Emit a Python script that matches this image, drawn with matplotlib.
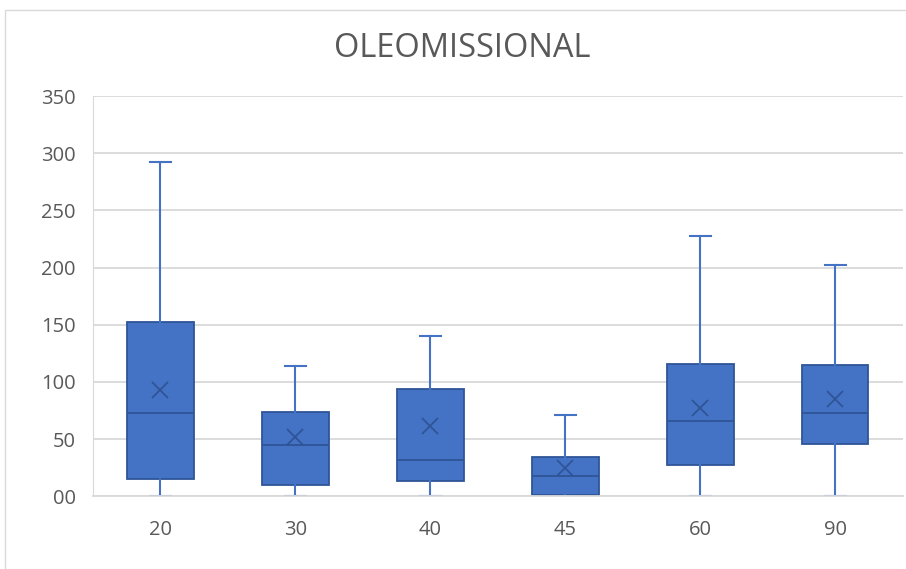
import matplotlib.pyplot as plt
from matplotlib.patches import Rectangle

# valores (Excel box & whisker)
grupos = ["20", "30", "40", "45", "60", "90"]
minimo = [0, 0, 0, 0, 0, 0]
q1 = [15, 9.6, 13, 1, 27, 45.5]
mediana = [72.5, 44.6, 31.5, 18, 65.5, 73]
q3 = [152, 73.5, 94, 34, 116, 115]
maximo = [292, 114, 140, 71, 228, 202]
media = [93, 51.5, 61, 25, 77, 85]

azul = "#4472C4"
borde = "#2F5597"
gris = "#595959"

plt.rcParams['font.family'] = ['Open Sans', 'DejaVu Sans']

fig = plt.figure(figsize=(9.06, 5.69), dpi=100)
fig.patches.append(Rectangle((0.005, -0.01), 1.2, 0.993, transform=fig.transFigure,
                             fill=False, edgecolor="#D9D9D9", linewidth=1))
ax = fig.add_axes([0.1026, 0.128, 0.894, 0.703])

stats = []
for i in range(len(grupos)):
    stats.append({"whislo": minimo[i], "q1": q1[i], "med": mediana[i],
                  "q3": q3[i], "whishi": maximo[i], "mean": media[i],
                  "label": grupos[i]})

ax.bxp(stats, positions=range(len(grupos)), widths=0.49, patch_artist=True,
       showmeans=True, showfliers=False,
       boxprops=dict(facecolor=azul, edgecolor=borde, linewidth=1.3),
       medianprops=dict(color=borde, linewidth=1.3),
       whiskerprops=dict(color=azul, linewidth=1.5),
       capprops=dict(color=azul, linewidth=1.5),
       capwidths=0.15,
       meanprops=dict(marker="x", markeredgecolor=borde, markersize=12,
                      markeredgewidth=1.3))

ax.set_xlim(-0.5, 5.5)
ax.set_ylim(0, 350)
ax.set_yticks(range(0, 351, 50))
ax.set_yticklabels(["00"] + [str(v) for v in range(50, 351, 50)])
ax.yaxis.grid(True, color="#D9D9D9", linewidth=1.3)
ax.set_axisbelow(True)
for s in ["top", "right"]:
    ax.spines[s].set_visible(False)
ax.spines["left"].set_color("#D9D9D9")
ax.spines["bottom"].set_color("#D9D9D9")
ax.spines["bottom"].set_linewidth(1.3)
ax.tick_params(length=0, labelsize=14.5, colors=gris)
ax.tick_params(axis="y", pad=12.5)
ax.tick_params(axis="x", pad=17)

fig.text(0.51, 0.914, "OLEOMISSIONAL", ha="center", va="center",
         fontsize=23.5, color=gris)

fig.savefig("out.png", dpi=100)
